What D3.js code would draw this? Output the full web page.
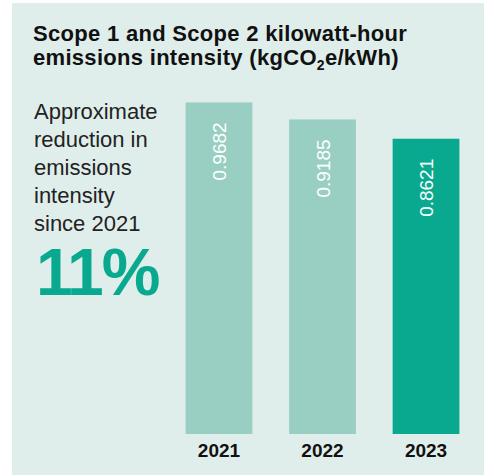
<!DOCTYPE html>
<html>
<head>
<meta charset="utf-8">
<script src="https://cdn.jsdelivr.net/npm/d3@7"></script>
<style>
  html, body { margin: 0; padding: 0; background: #ffffff; }
  svg { display: block; }
  text { font-family: "Liberation Sans", "Helvetica Neue", Arial, sans-serif; }
</style>
</head>
<body>
<svg id="chart" width="484" height="475"></svg>
<script>
// Emissions intensity by year (kgCO2e/kWh)
const years = ["2021", "2022", "2023"];
const intensity = [0.9682, 0.9185, 0.8621];
const barColors = ["#99cfc2", "#99cfc2", "#08a98f"];
const noteLines = ["Approximate", "reduction in", "emissions", "intensity", "since 2021"];
const reductionLabel = "11%";

const svg = d3.select("#chart");

// panel background
svg.append("rect")
  .attr("x", 12).attr("y", 3)
  .attr("width", 472).attr("height", 472)
  .attr("fill", "#e0eeeb");

// title
const title = svg.append("text")
  .attr("font-size", 22).attr("font-weight", 700)
  .attr("letter-spacing", 0.3)
  .attr("fill", "#111");
title.append("tspan").attr("x", 33).attr("y", 41).text("Scope 1 and Scope 2 kilowatt-hour");
const t2 = title.append("tspan").attr("x", 33).attr("y", 65);
t2.append("tspan").text("emissions intensity (kgCO");
t2.append("tspan").attr("font-size", 14).attr("dy", 5).text("2");
t2.append("tspan").attr("dy", -5).text("e/kWh)");

// side note
svg.append("g").selectAll("text")
  .data(noteLines)
  .join("text")
  .attr("x", 34)
  .attr("y", (d, i) => 119 + i * 28)
  .attr("font-size", 22)
  .attr("fill", "#222")
  .text(d => d);

svg.append("text")
  .attr("x", 36).attr("y", 295)
  .attr("font-size", 66).attr("font-weight", 700)
  .attr("letter-spacing", -2)
  .attr("fill", "#08a98f")
  .text(reductionLabel);

// scales
const x = d3.scaleBand()
  .domain(years)
  .range([168, 477])
  .paddingInner(0.355)
  .paddingOuter(0.17);

const y = d3.scaleLinear()
  .domain([0, 1])
  .range([434, 91.5]);

// bars
svg.append("g").selectAll("rect")
  .data(intensity)
  .join("rect")
  .attr("x", (d, i) => x(years[i]))
  .attr("y", d => y(d))
  .attr("width", x.bandwidth())
  .attr("height", d => y(0) - y(d))
  .attr("fill", (d, i) => barColors[i]);

// value labels, rotated inside the bars
svg.append("g").selectAll("text")
  .data(intensity)
  .join("text")
  .attr("transform", (d, i) =>
    `translate(${x(years[i]) + x.bandwidth() / 2 + 7},${y(d) + 20}) rotate(-90)`)
  .attr("text-anchor", "end")
  .attr("font-size", 19)
  .attr("fill", "#ffffff")
  .text(d => d.toFixed(4));

// year axis
const xAxis = svg.append("g")
  .attr("transform", `translate(0,${y(0)})`)
  .call(d3.axisBottom(x).tickSize(0).tickPadding(9.5));
xAxis.select(".domain").remove();
xAxis.selectAll("text")
  .attr("font-family", "'Liberation Sans', Arial, sans-serif")
  .attr("font-size", 19)
  .attr("font-weight", 700)
  .attr("fill", "#111");
</script>
</body>
</html>
